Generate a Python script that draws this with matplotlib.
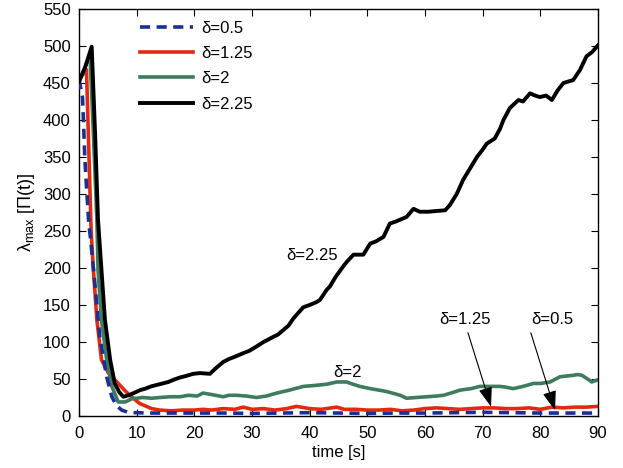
import matplotlib
matplotlib.use("Agg")
import matplotlib.pyplot as plt

plt.rcParams['font.family'] = ['Liberation Sans', 'DejaVu Sans']
plt.rcParams['mathtext.fontset'] = 'custom'
plt.rcParams['mathtext.rm'] = 'Liberation Sans'
plt.rcParams['mathtext.it'] = 'Liberation Sans'

# ---- data ----
t_black = [0, 1, 2.2, 2.8, 3.3, 3.9, 4.5, 5.4, 6.2, 7.0, 7.7, 8.6, 9.5, 10.6, 11.5, 12.5, 13.5, 14.5,
           15.5, 16.4, 17.5, 18.5, 19.8, 21, 22.7, 23.5, 25, 26, 27, 28.5, 29.5, 30.8, 32, 33.7, 34.5,
           35.4, 36.3, 37.2, 38.1, 38.9, 40, 41.2, 41.8, 42.9, 43.5, 44.5, 45.8, 46.4, 47.6, 48.5, 49.3,
           50.5, 51.5, 52.8, 53.9, 55, 56.8, 58, 59.1, 60.5, 62, 63.5, 64.3, 65.5, 66.6, 68, 69, 70,
           70.7, 72.1, 73, 73.6, 74.7, 76.2, 77, 78.2, 79.1, 79.9, 81, 82, 83, 84, 85.7, 86.9, 88, 89, 90]
y_black = [452, 470, 499, 380, 265, 197, 130, 76, 44, 32, 26, 28, 31, 35, 37, 40, 42, 44,
           46, 49, 52, 54, 57, 58, 57, 63, 73, 77, 80, 85, 88, 94, 100, 107, 110,
           116, 122, 132, 140, 147, 150, 154, 157, 170, 175, 188, 202, 208, 218, 218, 218,
           233, 236, 242, 260, 263, 269, 280, 276, 276, 277, 278, 285, 300, 319, 337, 350, 360,
           368, 375, 388, 400, 416, 427, 425, 436, 433, 431, 433, 427, 440, 450, 454, 468, 486, 492, 501]

t_green = [0, 1, 1.9, 2.5, 3.1, 3.3, 3.9, 4.8, 5.7, 6.8, 8, 9.4, 10, 11, 12.6, 14, 15.8, 17.5, 19,
           20.5, 21.5, 23, 25, 26, 27.3, 29, 30.8, 32.5, 34.3, 36.5, 38.9, 40.5, 41.8, 43, 44.7,
           46.4, 47.5, 48.7, 50.5, 52, 53.4, 55.7, 56.8, 58.5, 60.3, 62, 63.2, 64.5, 66.1, 68,
           69.5, 71, 73, 74, 75.3, 77, 78.8, 80, 81.7, 83.4, 84.5, 85.7, 86.5, 87.2, 88.2, 88.9, 90]
y_green = [452, 470, 488, 380, 265, 197, 130, 76, 40, 19, 19, 24, 24, 25, 24, 25, 26, 26, 28,
           27, 31, 29, 26, 28, 28, 27, 25, 27, 31, 35, 40, 41, 42, 43, 46,
           46, 43, 40, 37, 35, 33, 28, 24, 25, 26, 27, 28, 31, 35, 37,
           40, 40, 40, 39, 37, 40, 44, 44, 46, 53, 54, 55, 56, 55, 50, 46, 49]

t_red = [0, 1.3, 2.1, 2.5, 3.1, 3.9, 5.1, 6.8, 8, 9.1, 10.5, 12.6, 14, 16, 18, 20, 21.5, 23, 25, 27,
         28.5, 30, 32, 34, 36, 37.7, 40, 42, 44.7, 46, 48, 50, 52, 54, 56, 58, 60, 62, 64, 66, 68,
         70, 72, 74, 76, 78, 80, 82, 84, 86, 88, 90]
y_red = [455, 468, 251, 197, 130, 76, 58, 44, 34, 26, 17, 10, 8, 7, 8, 8, 9, 8, 10, 9,
         12, 9, 10, 8, 10, 13, 10, 9, 12, 9, 9, 8, 8, 9, 7, 8, 10, 11, 10, 9, 10,
         11, 11, 10, 10, 11, 9, 12, 11, 12, 12, 13]

t_blue = [0, 0.6, 0.75, 1.0, 1.3, 1.7, 2.0, 2.8, 3.6, 4.8, 5.7, 6.5, 7.4, 8.5, 9.7, 12, 15, 20, 25,
          30, 35, 40, 45, 50, 55, 60, 65, 70, 75, 80, 85, 90]
y_blue = [455, 431, 404, 350, 310, 260, 240, 175, 107, 53, 26, 14, 8, 5, 4.5, 4, 4, 4, 4,
          3.5, 4, 4.5, 4, 3.5, 4, 4, 4.5, 5, 4.5, 4, 4, 4]

labels = ['δ=0.5', 'δ=1.25', 'δ=2', 'δ=2.25']
x_ticks = list(range(0, 91, 10))
y_ticks = list(range(0, 551, 50))

# ---- plot ----
fig = plt.figure(figsize=(6.23, 4.68), dpi=100)
ax = fig.add_axes([0.1268, 0.1111, 0.8331, 0.8697])

ax.plot(t_blue, y_blue, color='#1c2f94', lw=2.6, ls=(0, (2.8, 1.8)), label=labels[0], zorder=3)
ax.plot(t_red, y_red, color='#e3290f', lw=2.6, label=labels[1], zorder=2)
ax.plot(t_green, y_green, color='#3f7b5d', lw=2.6, label=labels[2], zorder=2)
ax.plot(t_black, y_black, color='black', lw=2.8, label=labels[3], zorder=4)

ax.set_xlim(0, 90)
ax.set_ylim(0, 550)
ax.set_xticks(x_ticks)
ax.set_yticks(y_ticks)
ax.tick_params(direction='in', top=True, right=True, labelsize=12, length=5, width=0.8)
ax.tick_params(axis='x', pad=7)
ax.tick_params(axis='y', pad=6)
for s in ax.spines.values():
    s.set_linewidth(1.0)

ax.set_xlabel('time [s]', fontsize=12, labelpad=3)
ax.set_ylabel(r'$\lambda_{\mathrm{max}}$ [Π(t)]', fontsize=13, labelpad=4)

leg = ax.legend(loc='upper left', bbox_to_anchor=(0.095, 1.0), frameon=False, fontsize=12,
                handlelength=3.2, handletextpad=0.45, labelspacing=0.62, borderaxespad=0.3)

ax.text(40.4, 217, 'δ=2.25', fontsize=12, ha='center', va='center')
ax.text(46.6, 59, 'δ=2', fontsize=12, ha='center', va='center')
ax.text(67.0, 130, 'δ=1.25', fontsize=12, ha='center', va='center')
ax.text(82.0, 130, 'δ=0.5', fontsize=12, ha='center', va='center')

arrow_kw = dict(arrowstyle='-|>,head_length=1.2,head_width=0.42', color='black', lw=0.8)
ax.annotate('', xy=(71.6, 9), xytext=(67.3, 116), arrowprops=arrow_kw)
ax.annotate('', xy=(82.7, 4), xytext=(78.2, 116), arrowprops=arrow_kw)

fig.savefig('out.png', dpi=100)
